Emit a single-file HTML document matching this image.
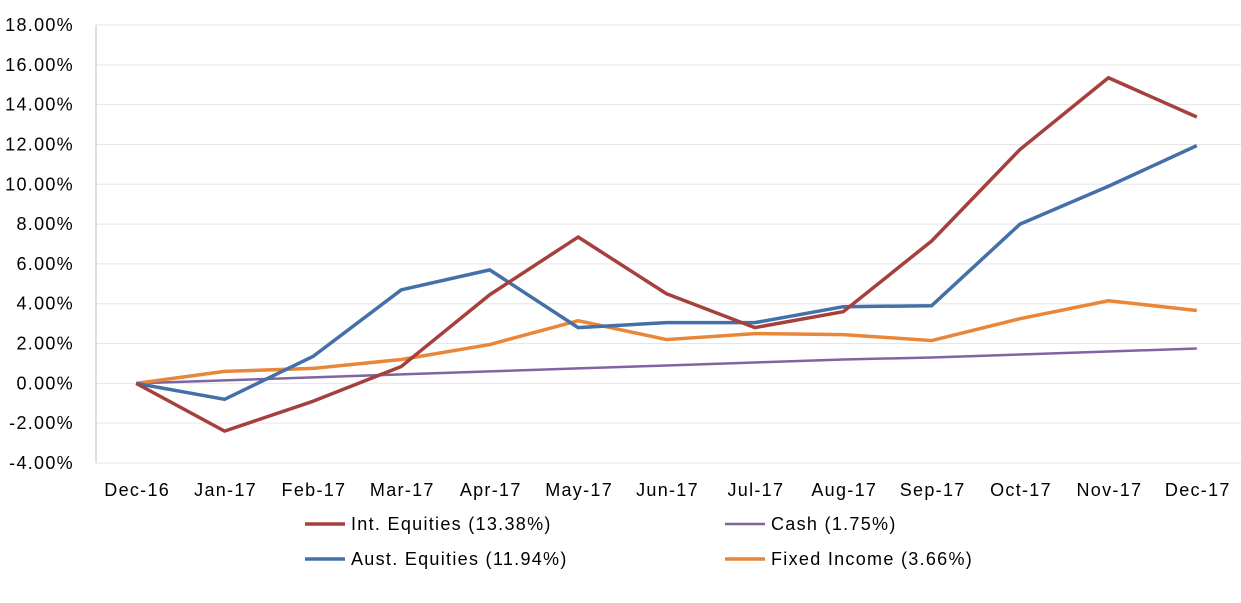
<!DOCTYPE html>
<html><head><meta charset="utf-8"><style>
html,body{margin:0;padding:0;background:#fff;}
svg{display:block;font-family:"Liberation Sans",Arial,sans-serif;}
text{letter-spacing:1.3px;}
</style></head><body>
<svg id="chart" width="1241" height="603" viewBox="0 0 1241 603" xmlns="http://www.w3.org/2000/svg">
<g id="grid"></g>
<g id="yticks"></g>
<g id="xticks"></g>
<g id="series"></g>
<g id="legend"></g>
</svg>
<script>
const categories = ["Dec-16","Jan-17","Feb-17","Mar-17","Apr-17","May-17","Jun-17","Jul-17","Aug-17","Sep-17","Oct-17","Nov-17","Dec-17"];
const intEquities = [0,-2.4,-0.9,0.85,4.45,7.35,4.5,2.8,3.6,7.15,11.75,15.35,13.38];
const austEquities = [0,-0.8,1.35,4.7,5.7,2.8,3.05,3.05,3.85,3.9,8.0,9.9,11.94];
const fixedIncome = [0,0.6,0.75,1.2,1.95,3.15,2.2,2.5,2.45,2.15,3.25,4.15,3.66];
const cash = [0,0.15,0.3,0.45,0.6,0.75,0.9,1.05,1.2,1.3,1.45,1.6,1.75];
const yTicks = [-4,-2,0,2,4,6,8,10,12,14,16,18];
const seriesNames = ["Int. Equities (13.38%)","Cash (1.75%)","Aust. Equities (11.94%)","Fixed Income (3.66%)"];

const NS="http://www.w3.org/2000/svg";
const plotL=92, plotR=1241, yTop=25, yBot=463, yMin=-4, yMax=18;
const step=(plotR-plotL)/categories.length;
function xPos(i){return plotL+step*(i+0.5);}
function yPos(v){return yBot-(v-yMin)/(yMax-yMin)*(yBot-yTop);}
function mk(tag,attrs,parent){const e=document.createElementNS(NS,tag);for(const k in attrs)e.setAttribute(k,attrs[k]);parent.appendChild(e);return e;}

const grid=document.getElementById('grid');
const yt=document.getElementById('yticks');
yTicks.forEach(t=>{
  const l=mk('line',{x1:96,x2:plotR,y1:yPos(t),y2:yPos(t),stroke:'#e6e6e6','stroke-width':1},grid);
  
  
  const tx=mk('text',{x:74,y:yPos(t)+6,'text-anchor':'end','font-size':18,fill:'#000'},yt);
  tx.textContent=t.toFixed(2)+'%';
  
  
});
const ax=mk('line',{x1:96,x2:96,y1:yTop,y2:yBot,stroke:'#bfbfbf','stroke-width':1},grid);



const xt=document.getElementById('xticks');
categories.forEach((c,i)=>{
  const tx=mk('text',{x:xPos(i)+1,y:496,'text-anchor':'middle','font-size':18,fill:'#000'},xt);
  tx.textContent=c;
  
  
});

const sg=document.getElementById('series');
const defs=[[cash,'#8064A2','cash-line',2.5],[fixedIncome,'#E8863A','fixed-income-line',3.5],[austEquities,'#4470A9','aust-equities-line',3.5],[intEquities,'#A5403C','int-equities-line',3.5]];
defs.forEach(([d,col,name,w])=>{
  const p=mk('polyline',{points:d.map((v,i)=>xPos(i)+','+yPos(v)).join(' '),fill:'none',stroke:col,'stroke-width':w,'stroke-linejoin':'round'},sg);
  
  
});

const lg=document.getElementById('legend');
const legendItems=[[0,'#A5403C',305,524],[1,'#8064A2',725,524],[2,'#4470A9',305,559],[3,'#E8863A',725,559]];
legendItems.forEach(([i,col,x,y])=>{
  const l=mk('line',{x1:x,x2:x+40,y1:y,y2:y,stroke:col,'stroke-width':i===1?2.5:3.5},lg);
  
  
  const t=mk('text',{x:x+46,y:y+6,'font-size':18,fill:'#000'},lg);
  t.textContent=seriesNames[i];
  
  
});
</script>
</body></html>
